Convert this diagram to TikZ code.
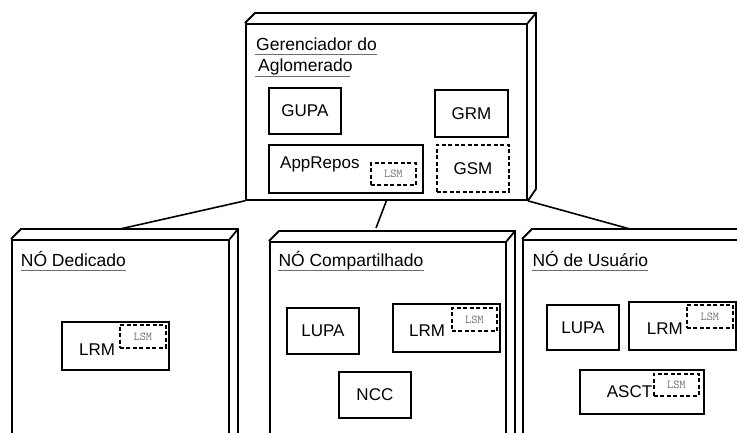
\documentclass[tikz,border=0pt]{standalone}
\usepackage{fontspec}
\setmainfont{Liberation Sans}
\usetikzlibrary{calc}
\definecolor{ulgray}{RGB}{110,110,110}
\definecolor{lsmgray}{RGB}{115,115,115}
\begin{document}
\begin{tikzpicture}[x=1pt,y=-1pt,
  face/.style={draw, line width=1.8pt, fill=white, inner sep=0, anchor=north west},
  edge/.style={line width=1.8pt, line join=miter},
  comp/.style={draw, line width=1.8pt, inner sep=0, anchor=north west, font=\fontsize{17}{20}\selectfont},
  lsmbox/.style={draw, line width=1.8pt, dash pattern=on 4pt off 2.5pt, inner sep=0, anchor=north west,
     text=lsmgray, font=\ttfamily\fontsize{12}{13}\selectfont},
  lbl/.style={inner sep=0, anchor=base west, font=\fontsize{17}{20}\selectfont},
  ttl/.style={inner sep=0, anchor=base west, font=\fontsize{17.5}{20}\selectfont},
  uline/.style={draw=ulgray, line width=1.5pt},
  conn/.style={line width=1.6pt}]

\useasboundingbox (0,0) rectangle (737,432);
\clip (0,0) rectangle (737,432);

% ---------- Manager cube ----------
\node[face, minimum width=281pt, minimum height=176pt] (mgr) at (245,23) {};
\draw[edge] (mgr.north west) -- ++(10,-10) -- ++(281,0) coordinate (mgrtr) -- ++(0,176) -- (mgr.south east);
\draw[edge] (mgr.north east) -- (mgrtr);

\node[ttl] (mgrt1) at (256,50) {Gerenciador do};
\node[ttl] (mgrt2) at (258,71.7) {Aglomerado};
\draw[uline] ($(mgrt1.base west)+(-1,4.5)$) -- ($(mgrt1.base east)+(0,4.5)$);
\draw[uline] ($(mgrt2.base west)+(-3,5)$) -- ($(mgrt2.base east)+(-3,5)$);

\node[comp, minimum width=72pt, minimum height=46pt] (gupa) at (268,87) {GUPA};
\node[comp, minimum width=73pt, minimum height=47pt] (grm) at (434,89) {GRM};
\node[comp, minimum width=154pt, minimum height=48pt] (apprepos) at (268,144) {};
\node[lbl] (appreposT) at (280,168.3) {AppRepos};
\node[lsmbox, minimum width=45pt, minimum height=22pt] (lsmA) at (370,162.3) {LSM};
\node[lsmbox, minimum width=72pt, minimum height=47pt, text=black, font=\fontsize{17}{20}\selectfont] (gsm) at (436,144) {GSM};

% ---------- Dedicated node ----------
\node[face, minimum width=217pt, minimum height=210pt] (ded) at (11,239) {};
\draw[edge] (ded.north west) -- ++(10,-10) -- ++(217,0) coordinate (dedtr) -- ++(0,210);
\draw[edge] (ded.north east) -- (dedtr);
\node[ttl] (dedT) at (20.7,266.7) {NÓ Dedicado};
\draw[uline] ($(dedT.base west)+(0,4)$) -- ($(dedT.base east)+(0,4)$);
\node[comp, minimum width=107pt, minimum height=48pt] (lrmD) at (61,321) {};
\node[lbl] (lrmDT) at (79,355) {LRM};
\node[lsmbox, minimum width=46pt, minimum height=23pt] (lsmD) at (119,324) {LSM};

% ---------- Shared node ----------
\node[face, minimum width=236pt, minimum height=210pt] (shr) at (269,241) {};
\draw[edge] (shr.north west) -- ++(10,-10) -- ++(236,0) coordinate (shrtr) -- ++(0,210);
\draw[edge] (shr.north east) -- (shrtr);
\node[ttl] (shrT) at (278.3,266.7) {NÓ Compartilhado};
\draw[uline] ($(shrT.base west)+(0,4)$) -- ($(shrT.base east)+(0,4)$);
\node[comp, minimum width=72pt, minimum height=46pt] (lupaS) at (286,307) {LUPA};
\node[comp, minimum width=107pt, minimum height=48pt] (lrmS) at (392,303.3) {};
\node[lbl] (lrmST) at (409,336.7) {LRM};
\node[lsmbox, minimum width=45pt, minimum height=23pt] (lsmS) at (451,307.3) {LSM};
\node[comp, minimum width=72pt, minimum height=46pt] (ncc) at (338,371) {NCC};

% ---------- User node ----------
\node[face, minimum width=240pt, minimum height=210pt] (usr) at (522,239) {};
\draw[edge] (usr.north west) -- ++(10,-10) -- ++(240,0);
\node[ttl] (usrT) at (532.3,266.7) {NÓ de Usuário};
\draw[uline] ($(usrT.base west)+(0,4)$) -- ($(usrT.base east)+(0,4)$);
\node[comp, minimum width=72pt, minimum height=45pt] (lupaU) at (546,304) {LUPA};
\node[comp, minimum width=107pt, minimum height=48pt] (lrmU) at (628,301) {};
\node[lbl] (lrmUT) at (646.7,334.3) {LRM};
\node[lsmbox, minimum width=46pt, minimum height=23pt] (lsmU) at (686,304) {LSM};
\node[comp, minimum width=124pt, minimum height=44pt] (asct) at (579,369) {};
\node[lbl] (asctT) at (606.7,397.7) {ASCT};
\node[lsmbox, minimum width=45pt, minimum height=22pt] (lsmU2) at (653,373) {LSM};

% ---------- Connectors ----------
\coordinate (dedTop) at (120,229);
\coordinate (shrTop) at (376,228);
\coordinate (usrTop) at (630,229);
\draw[conn] (mgr.south west) -- (dedTop);
\draw[conn] (mgr.south) -- (shrTop);
\draw[conn] (mgr.south east) -- (usrTop);
\end{tikzpicture}
\end{document}
